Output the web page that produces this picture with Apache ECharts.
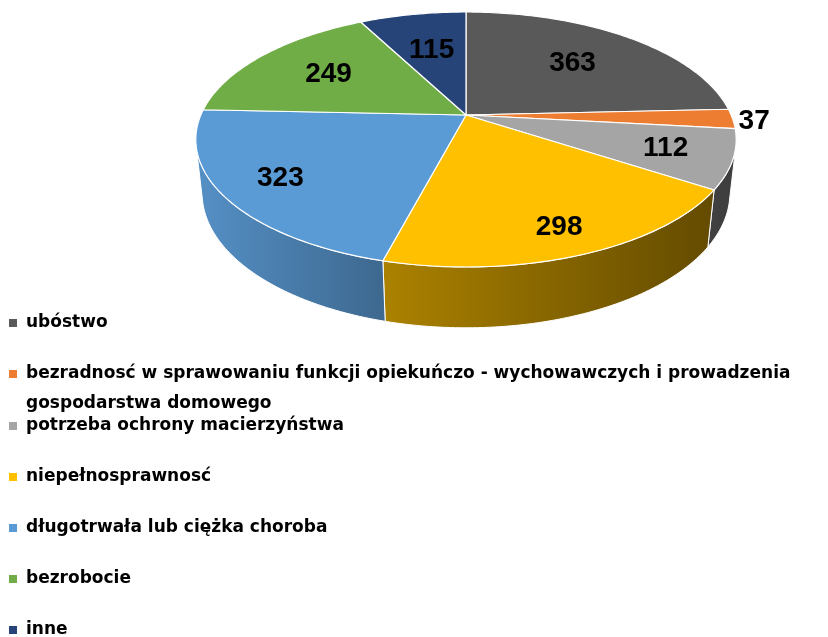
<!DOCTYPE html>
<html>
<head>
<meta charset="utf-8">
<script src="https://cdn.jsdelivr.net/npm/echarts@6/dist/echarts.min.js"></script>
<style>
html, body { margin: 0; padding: 0; background: #fff; }
#main { width: 828px; height: 637px; }
</style>
</head>
<body>
<div id="main"></div>
<script>
// dane
var names = [
    'ubóstwo',
    'bezradnosć w sprawowaniu funkcji opiekuńczo - wychowawczych i prowadzenia gospodarstwa domowego',
    'potrzeba ochrony macierzyństwa',
    'niepełnosprawnosć',
    'długotrwała lub ciężka choroba',
    'bezrobocie',
    'inne'
];
var values = [363, 37, 112, 298, 323, 249, 115];
var colors = ['#595959', '#ED7D31', '#A5A5A5', '#FFC000', '#5B9BD5', '#70AD47', '#264478'];

// perspektywa 3D (kamera nad tortem)
var CX = 466, CY = 115, F = 1224, D = 4.616, SA = 0.4631, CA = 0.8863, H = 0.23;

function project(deg, r, y) {
    var t = deg * Math.PI / 180;
    var X = r * Math.sin(t), Z = -r * Math.cos(t);
    var v = y * CA - Z * SA;
    var w = D - (Z * CA + y * SA);
    return [CX + F * X / w, CY - F * v / w];
}

var total = values.reduce(function (a, b) { return a + b; }, 0);
var startAngles = [];
var acc = 0;
values.forEach(function (v) { startAngles.push(acc / total * 360); acc += v; });

var WALL_MIN = Math.acos(-1 / (D * CA)) * 180 / Math.PI;
var WALL_MAX = 360 - WALL_MIN;

function shade(hex, f) {
    var n = parseInt(hex.slice(1), 16);
    var r = Math.round(((n >> 16) & 255) * f);
    var g = Math.round(((n >> 8) & 255) * f);
    var b = Math.round((n & 255) * f);
    return 'rgb(' + r + ',' + g + ',' + b + ')';
}

function renderSlice(i) {
    return function (params, api) {
        var a0 = startAngles[i];
        var a1 = a0 + values[i] / total * 360;
        var children = [];
        var k, n;

        // boczna ściana (tylko widoczna część)
        var w0 = Math.max(a0, WALL_MIN), w1 = Math.min(a1, WALL_MAX);
        if (w1 > w0) {
            var wall = [];
            n = Math.max(2, Math.ceil(w1 - w0));
            for (k = 0; k <= n; k++) wall.push(project(w0 + (w1 - w0) * k / n, 1, 0));
            for (k = n; k >= 0; k--) wall.push(project(w0 + (w1 - w0) * k / n, 1, -H));
            children.push({
                type: 'polygon', z2: 1,
                shape: { points: wall },
                style: {
                    fill: {
                        type: 'linear', x: 195, y: 0, x2: 737, y2: 0, global: true,
                        colorStops: [
                            { offset: 0, color: shade(colors[i], 0.93) },
                            { offset: 0.35, color: shade(colors[i], 0.67) },
                            { offset: 1, color: shade(colors[i], 0.37) }
                        ]
                    },
                    stroke: '#fff', lineWidth: 1
                }
            });
        }

        // wierzch
        var top = [project(0, 0, 0)];
        n = Math.max(2, Math.ceil(a1 - a0));
        for (k = 0; k <= n; k++) top.push(project(a0 + (a1 - a0) * k / n, 1, 0));
        children.push({
            type: 'polygon', z2: 5,
            shape: { points: top },
            style: { fill: colors[i], stroke: '#fff', lineWidth: 1.2 }
        });

        // etykieta
        var mid = (a0 + a1) / 2;
        var p, align = 'center';
        if (values[i] / total < 0.04) {
            p = project(mid, 1, 0);
            p = [p[0] + 6, p[1] + 3];
            align = 'left';
        } else {
            var r = 0.72 - 0.12 * Math.cos(mid * Math.PI / 180);
            p = project(mid, r, 0);
        }
        children.push({
            type: 'text', z2: 10,
            style: {
                text: String(values[i]),
                x: p[0], y: p[1],
                fill: '#000',
                font: 'bold 28px "Liberation Sans"',
                align: align, verticalAlign: 'middle',
                textAlign: align, textVerticalAlign: 'middle'
            }
        });
        return { type: 'group', children: children };
    };
}

var legendText = {
    color: '#000',
    fontFamily: 'DejaVu Sans',
    fontWeight: 'bold',
    fontSize: 17,
    lineHeight: 30,
    padding: [0, 0, 0, 4]
};

// długa nazwa: dwa wiersze, ikonka przy pierwszym (pusty wiersz na górze centruje pierwszy)
function legendLabel(name) {
    var cut = name.indexOf(' gospodarstwa');
    if (cut < 0) return name;
    return '\n' + name.slice(0, cut) + '\n' + name.slice(cut + 1);
}
function makeLegend(top, data) {
    return {
        orient: 'vertical', left: 9, top: top, height: 300, padding: 0, itemGap: 21,
        itemWidth: 8, itemHeight: 8, icon: 'rect', selectedMode: false,
        data: data, formatter: legendLabel, textStyle: legendText
    };
}

var myChart = echarts.init(document.getElementById('main'));
myChart.setOption({
    backgroundColor: '#fff',
    animation: false,
    legend: [
        makeLegend(308, names.slice(0, 1)),
        makeLegend(329, names.slice(1, 2)),
        makeLegend(411, names.slice(2))
    ],
    series: names.map(function (name, i) {
        return {
            type: 'custom',
            name: name,
            coordinateSystem: 'none',
            silent: true,
            itemStyle: { color: colors[i] },
            data: [[values[i]]],
            renderItem: renderSlice(i)
        };
    })
});
</script>
</body>
</html>
